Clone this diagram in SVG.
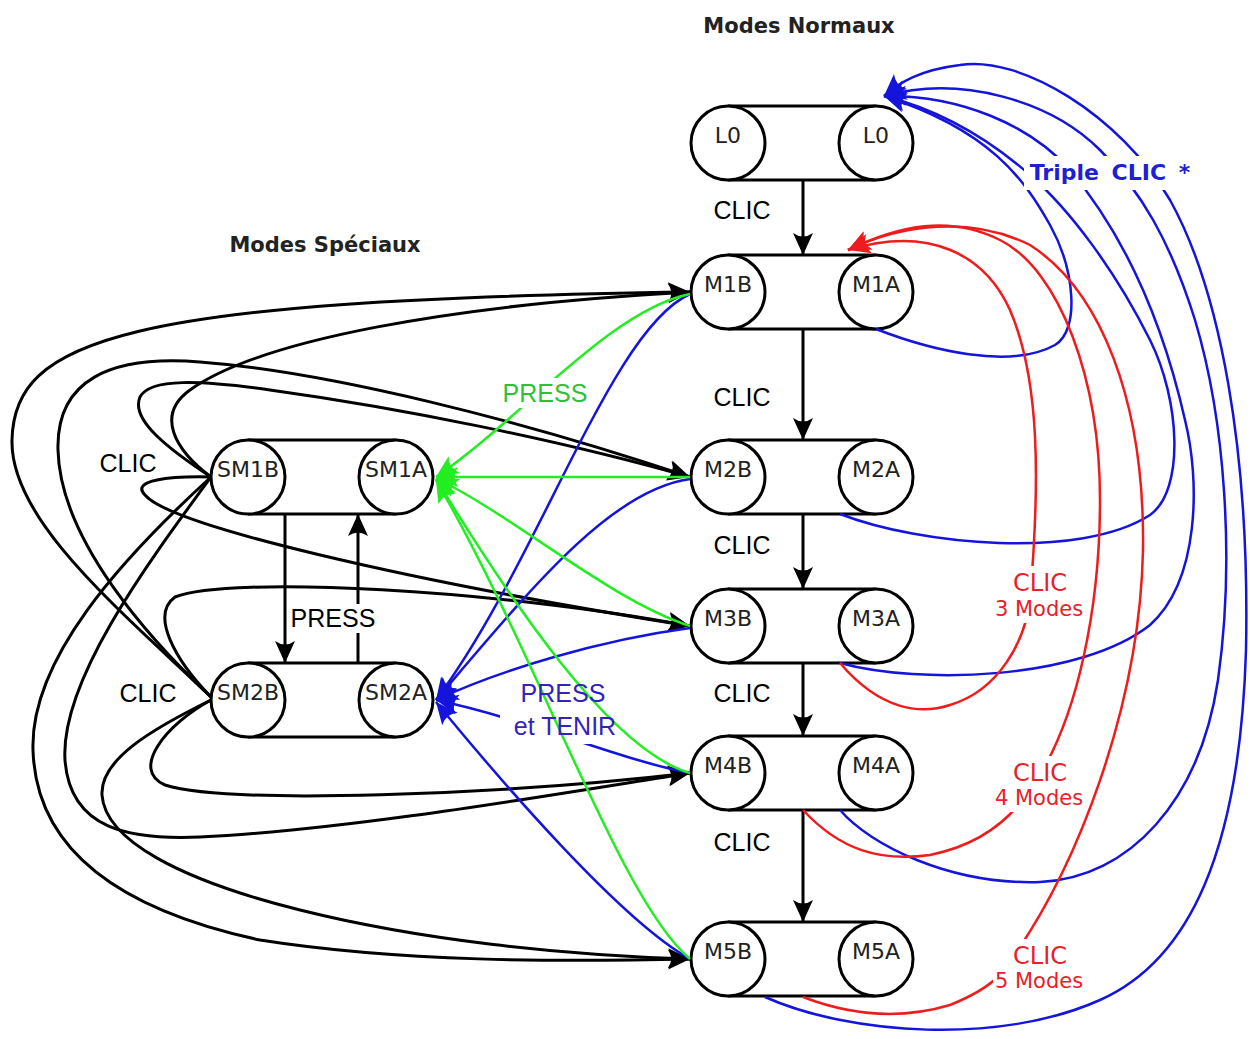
<svg xmlns="http://www.w3.org/2000/svg" width="1250" height="1039" viewBox="0 0 1250 1039">
<style>
  .pill{fill:none;stroke:#000;stroke-width:3}
  .circ{fill:#fff;stroke:#000;stroke-width:3}
  .nl{font-family:"DejaVu Sans",sans-serif;font-size:22px;fill:#222;text-anchor:middle}
  .k{fill:none;stroke:#000;stroke-width:3}
  .g{fill:none;stroke:#22ee22;stroke-width:2.5}
  .b{fill:none;stroke:#1414dc;stroke-width:2.5}
  .r{fill:none;stroke:#ee1c1c;stroke-width:2.5}
  .lbl{font-family:"Liberation Sans",Arial,sans-serif;font-size:25px;text-anchor:middle}
  .title{font-family:"DejaVu Sans",sans-serif;font-size:21px;font-weight:bold;fill:#222;text-anchor:middle}
  .rl{font-family:"DejaVu Sans",sans-serif;fill:#e8202a;text-anchor:middle}
</style>
<defs>
  <marker id="ak" viewBox="-24 -12 26 24" refX="0" refY="0" markerWidth="26" markerHeight="24" markerUnits="userSpaceOnUse" orient="auto">
    <path d="M0,0 L-22,-10 Q-15,0 -22,10 Z" fill="#000"/>
  </marker>
  <marker id="ag" viewBox="-24 -12 26 24" refX="0" refY="0" markerWidth="26" markerHeight="24" markerUnits="userSpaceOnUse" orient="auto">
    <path d="M0,0 L-22,-10 Q-15,0 -22,10 Z" fill="#22ee22"/>
  </marker>
  <marker id="ab" viewBox="-24 -12 26 24" refX="0" refY="0" markerWidth="26" markerHeight="24" markerUnits="userSpaceOnUse" orient="auto">
    <path d="M0,0 L-22,-10 Q-15,0 -22,10 Z" fill="#1414dc"/>
  </marker>
  <marker id="ar" viewBox="-24 -12 26 24" refX="0" refY="0" markerWidth="26" markerHeight="24" markerUnits="userSpaceOnUse" orient="auto">
    <path d="M0,0 L-22,-10 Q-15,0 -22,10 Z" fill="#ee1c1c"/>
  </marker>
  <!-- label gaps cut into the lines of the same colour -->
  <mask id="mk" maskUnits="userSpaceOnUse" x="0" y="0" width="1250" height="1039">
    <rect width="1250" height="1039" fill="#fff"/>
    <rect x="289" y="604" width="89" height="29" fill="#000"/>
  </mask>
  <mask id="mg" maskUnits="userSpaceOnUse" x="0" y="0" width="1250" height="1039">
    <rect width="1250" height="1039" fill="#fff"/>
    <rect x="500" y="378" width="91" height="30" fill="#000"/>
  </mask>
  <mask id="mb" maskUnits="userSpaceOnUse" x="0" y="0" width="1250" height="1039">
    <rect width="1250" height="1039" fill="#fff"/>
    <rect x="508" y="674" width="110" height="34" fill="#000"/>
    <rect x="500" y="708" width="130" height="36" fill="#000"/>
    <rect x="1024" y="156" width="174" height="34" fill="#000"/>
  </mask>
  <mask id="mr" maskUnits="userSpaceOnUse" x="0" y="0" width="1250" height="1039">
    <rect width="1250" height="1039" fill="#fff"/>
    <rect x="993" y="566" width="94" height="57" fill="#000"/>
    <rect x="993" y="756" width="94" height="56" fill="#000"/>
    <rect x="993" y="939" width="94" height="56" fill="#000"/>
  </mask>
</defs>
<rect width="1250" height="1039" fill="#fff"/>

<text class="title" x="799" y="33">Modes Normaux</text>
<text class="title" x="325" y="252">Modes Spéciaux</text>

<g id="L0">
  <path class="pill" d="M728,106 H876 M728,180 H876"/>
  <circle class="circ" cx="728" cy="143" r="37"/><circle class="circ" cx="876" cy="143" r="37"/>
  <text class="nl" x="728" y="143">L0</text><text class="nl" x="876" y="143">L0</text>
</g>
<g id="M1">
  <path class="pill" d="M728,255 H876 M728,329 H876"/>
  <circle class="circ" cx="728" cy="292" r="37"/><circle class="circ" cx="876" cy="292" r="37"/>
  <text class="nl" x="728" y="292">M1B</text><text class="nl" x="876" y="292">M1A</text>
</g>
<g id="M2">
  <path class="pill" d="M728,440 H876 M728,514 H876"/>
  <circle class="circ" cx="728" cy="477" r="37"/><circle class="circ" cx="876" cy="477" r="37"/>
  <text class="nl" x="728" y="477">M2B</text><text class="nl" x="876" y="477">M2A</text>
</g>
<g id="M3">
  <path class="pill" d="M728,589 H876 M728,663 H876"/>
  <circle class="circ" cx="728" cy="626" r="37"/><circle class="circ" cx="876" cy="626" r="37"/>
  <text class="nl" x="728" y="626">M3B</text><text class="nl" x="876" y="626">M3A</text>
</g>
<g id="M4">
  <path class="pill" d="M728,736 H876 M728,810 H876"/>
  <circle class="circ" cx="728" cy="773" r="37"/><circle class="circ" cx="876" cy="773" r="37"/>
  <text class="nl" x="728" y="773">M4B</text><text class="nl" x="876" y="773">M4A</text>
</g>
<g id="M5">
  <path class="pill" d="M728,922 H876 M728,996 H876"/>
  <circle class="circ" cx="728" cy="959" r="37"/><circle class="circ" cx="876" cy="959" r="37"/>
  <text class="nl" x="728" y="959">M5B</text><text class="nl" x="876" y="959">M5A</text>
</g>
<g id="SM1">
  <path class="pill" d="M248,440 H396 M248,514 H396"/>
  <circle class="circ" cx="248" cy="477" r="37"/><circle class="circ" cx="396" cy="477" r="37"/>
  <text class="nl" x="248" y="477">SM1B</text><text class="nl" x="396" y="477">SM1A</text>
</g>
<g id="SM2">
  <path class="pill" d="M248,663 H396 M248,737 H396"/>
  <circle class="circ" cx="248" cy="700" r="37"/><circle class="circ" cx="396" cy="700" r="37"/>
  <text class="nl" x="248" y="700">SM2B</text><text class="nl" x="396" y="700">SM2A</text>
</g>

<g id="connectors">
  <g mask="url(#mk)">
    <!-- vertical CLIC arrows -->
    <path class="k" marker-end="url(#ak)" d="M803,180 V255"/>
    <path class="k" marker-end="url(#ak)" d="M803,329 V440"/>
    <path class="k" marker-end="url(#ak)" d="M803,514 V589"/>
    <path class="k" marker-end="url(#ak)" d="M803,663 V736"/>
    <path class="k" marker-end="url(#ak)" d="M803,810 V922"/>
    <!-- SM1 <-> SM2 -->
    <path class="k" marker-end="url(#ak)" d="M285,514 V663"/>
    <path class="k" marker-end="url(#ak)" d="M358,663 V514"/>
    <!-- black special mode curves -->
    <path class="k" marker-end="url(#ak)" d="M211,697 C120,610 10,520 12,440 C14,340 120,300 690,292"/>
    <path class="k" marker-end="url(#ak)" d="M211,477 C175,450 155,415 190,390 C260,340 450,305 690,292"/>
    <path class="k" marker-end="url(#ak)" d="M211,697 C150,640 60,540 58,450 C56,380 110,355 200,362 C330,372 520,420 690,477"/>
    <path class="k" marker-end="url(#ak)" d="M211,477 C170,450 130,420 140,397 C150,378 200,380 270,390 C400,408 560,440 690,477"/>
    <path class="k" marker-end="url(#ak)" d="M211,477 C170,476 130,480 145,495 C170,525 400,580 690,626"/>
    <path class="k" marker-end="url(#ak)" d="M211,697 C175,660 150,615 175,597 C230,575 500,590 690,626"/>
    <path class="k" marker-end="url(#ak)" d="M211,700 C165,725 130,770 165,785 C230,805 500,795 690,773"/>
    <path class="k" marker-end="url(#ak)" d="M211,477 C150,560 60,680 65,760 C70,830 130,840 200,837 C350,830 550,795 690,773"/>
    <path class="k" marker-end="url(#ak)" d="M211,700 C150,730 100,760 102,795 C105,840 180,880 300,910 C420,940 560,955 690,959"/>
    <path class="k" marker-end="url(#ak)" d="M211,477 C120,560 30,660 33,750 C36,850 120,910 260,940 C400,962 560,962 690,959"/>
  </g>
  <g mask="url(#mb)">
    <!-- blue PRESS et TENIR -->
    <path class="b" marker-end="url(#ab)" d="M690,294 C610,330 540,560 436,700"/>
    <path class="b" marker-end="url(#ab)" d="M690,479 C610,490 530,590 436,700"/>
    <path class="b" marker-end="url(#ab)" d="M690,628 C600,640 500,670 436,700"/>
    <path class="b" marker-end="url(#ab)" d="M690,773 C620,760 530,720 436,700"/>
    <path class="b" marker-end="url(#ab)" d="M690,959 C620,920 500,780 436,702"/>
    <!-- blue Triple CLIC -->
    <path class="b" marker-end="url(#ab)" d="M876,329 C930,350 1010,370 1055,345 C1080,330 1075,270 1050,225 C1025,180 990,130 884,96"/>
    <path class="b" marker-end="url(#ab)" d="M840,514 C920,545 1080,560 1150,515 C1185,490 1180,400 1150,340 C1115,270 1070,210 1030,175 C990,140 940,110 884,96"/>
    <path class="b" marker-end="url(#ab)" d="M840,663 C920,685 1080,680 1150,625 C1200,580 1200,480 1185,420 C1160,310 1120,230 1070,170 C1030,125 960,95 884,96"/>
    <path class="b" marker-end="url(#ab)" d="M840,810 C870,845 950,885 1040,882 C1130,878 1200,800 1218,680 C1235,560 1225,420 1195,320 C1170,240 1140,190 1100,150 C1050,100 960,75 884,96"/>
    <path class="b" marker-end="url(#ab)" d="M765,997 C850,1035 1000,1045 1100,1000 C1190,960 1240,850 1246,650 C1250,450 1220,290 1170,200 C1120,115 1020,55 960,65 C920,70 900,82 884,96"/>
  </g>
  <g mask="url(#mg)">
    <!-- green PRESS -->
    <path class="g" marker-end="url(#ag)" d="M690,294 C610,310 520,420 436,477"/>
    <path class="g" marker-end="url(#ag)" d="M690,477 L436,477"/>
    <path class="g" marker-end="url(#ag)" d="M690,626 C610,600 520,520 436,478"/>
    <path class="g" marker-end="url(#ag)" d="M690,773 C610,750 510,600 436,479"/>
    <path class="g" marker-end="url(#ag)" d="M690,959 C620,900 540,660 436,480"/>
  </g>
  <g mask="url(#mr)">
    <!-- red CLIC n Modes -->
    <path class="r" marker-end="url(#ar)" d="M840,663 C880,710 920,715 950,705 C1000,690 1025,640 1030,600 C1040,480 1040,380 1010,310 C985,255 930,225 848,250"/>
    <path class="r" marker-end="url(#ar)" d="M803,810 C840,850 880,862 930,855 C980,845 1010,820 1030,790 C1080,720 1100,600 1100,500 C1100,380 1060,270 1000,240 C950,215 900,225 848,250"/>
    <path class="r" marker-end="url(#ar)" d="M803,997 C850,1015 900,1020 950,1005 C975,995 990,985 1000,975 C1080,870 1140,700 1143,550 C1145,400 1100,290 1030,245 C970,215 900,225 848,250"/>
  </g>
</g>

<g id="labels">
  <text class="lbl" x="742" y="219">CLIC</text>
  <text class="lbl" x="742" y="406">CLIC</text>
  <text class="lbl" x="742" y="554">CLIC</text>
  <text class="lbl" x="742" y="702">CLIC</text>
  <text class="lbl" x="742" y="851">CLIC</text>
  <text class="lbl" x="128" y="472">CLIC</text>
  <text class="lbl" x="148" y="702">CLIC</text>
  <text class="lbl" x="333" y="627">PRESS</text>
  <text class="lbl" x="545" y="402" fill="#2fbf3a">PRESS</text>
  <text class="lbl" x="563" y="702" fill="#3322bb">PRESS</text>
  <text class="lbl" x="565" y="735" fill="#3322bb">et TENIR</text>
  <text x="1110" y="180" font-family="DejaVu Sans,sans-serif" font-size="22" font-weight="bold" fill="#1e1ed6" text-anchor="middle" word-spacing="5">Triple CLIC *</text>
  <text class="rl" x="1040" y="591" font-size="24">CLIC</text>
  <text class="rl" x="1039" y="616" font-size="21">3 Modes</text>
  <text class="rl" x="1040" y="781" font-size="24">CLIC</text>
  <text class="rl" x="1039" y="805" font-size="21">4 Modes</text>
  <text class="rl" x="1040" y="964" font-size="24">CLIC</text>
  <text class="rl" x="1039" y="988" font-size="21">5 Modes</text>
</g>
</svg>
